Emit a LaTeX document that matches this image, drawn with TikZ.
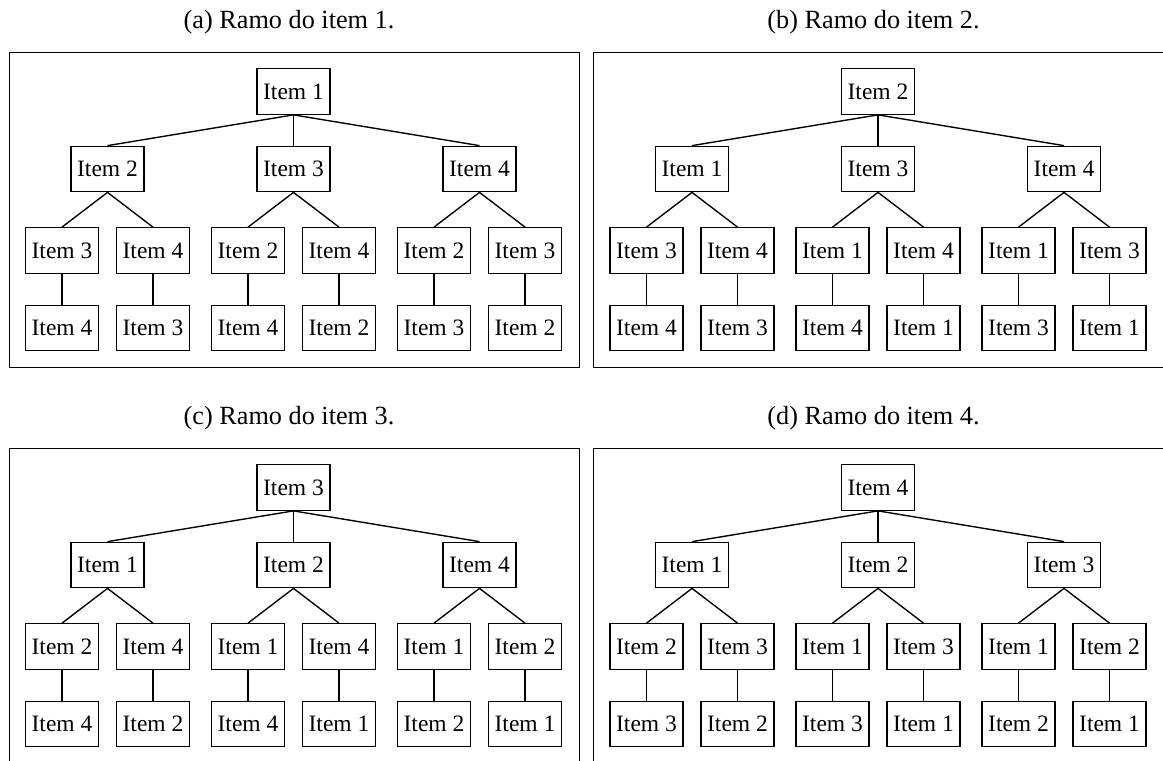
\documentclass[tikz,border=0pt]{standalone}
\usepackage{fontspec}
\setmainfont{Liberation Serif}
\begin{document}
\begin{tikzpicture}[x=0.4pt,y=-0.4pt,
    item/.style={draw,line width=0.5pt,minimum width=29.2pt,minimum height=18.2pt,inner sep=0pt,font=\fontsize{9.4}{11}\selectfont},
    ramo/.style={line width=0.55pt},
    moldura/.style={line width=0.4pt}]
    \useasboundingbox (0,0) rectangle (1163,760);
    \foreach \r/\letra [count=\p from 0] in {1/a,2/b,3/c,4/d}{
      \pgfmathsetmacro\dx{mod(\p,2)*584.5}
      \pgfmathsetmacro\dy{int(\p/2)*396}
      \begin{scope}[shift={(\dx,\dy)}]
        \draw[moldura] (9,52) rectangle (579,367); % frame
        \node[anchor=base,font=\fontsize{10.5}{12}\selectfont] (cap\r) at (289,28) {(\letra) Ramo do item \r.}; % caption
        \node[item] (root\r) at (293.5,91.5) {Item \r}; % root
        \foreach \c in {1,...,4}{
          \ifnum\c=\r\else
            \pgfmathtruncatemacro\k{\c<\r ? \c-1 : \c-2}
            \node[item] (mid\r\c) at (107.5+186*\k,169) {Item \c};
            \draw[ramo] (root\r.south) -- (mid\r\c.north);
            \foreach \g in {1,...,4}{
              \ifnum\g=\r\else\ifnum\g=\c\else
                \pgfmathtruncatemacro\j{(\g-1)-(\r<\g)-(\c<\g)}
                \pgfmathtruncatemacro\f{10-\r-\c-\g} % the one left over
                \node[item] (sub\r\c\g) at (62+186*\k+91*\j,250.5) {Item \g};
                \node[item] (leaf\r\c\g) at (62+186*\k+91*\j,328) {Item \f};
                \draw[ramo] (mid\r\c.south) -- (sub\r\c\g.north);
                \draw[ramo] (sub\r\c\g) -- (leaf\r\c\g);
              \fi\fi
            }
          \fi
        }
      \end{scope}
    }
\end{tikzpicture}
\end{document}
